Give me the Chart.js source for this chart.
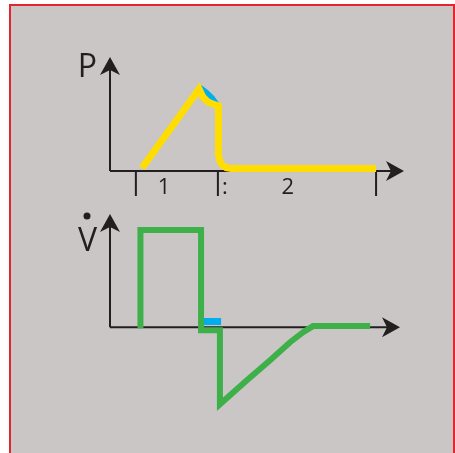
<!DOCTYPE html>
<html>
<head>
<meta charset="utf-8">
<script src="https://cdn.jsdelivr.net/npm/chart.js@4.4.1/dist/chart.umd.min.js"></script>
<style>
  body { margin: 0; background: #fff; width: 455px; height: 453px; overflow: hidden; position: relative; }
  #panel { position: absolute; left: 9px; top: 4px; width: 442px; height: 460px;
           background: #cac6c5; border: 2px solid #e2262b; }
  canvas { position: absolute; left: 0; top: 0; }
</style>
</head>
<body>
<div id="panel"></div>
<canvas id="graficoPresion" width="455" height="453"></canvas>
<canvas id="graficoFlujo" width="455" height="453"></canvas>
<script>
// presion (amarillo)
const presionTiempo = [10.9, 30.3, 31.6, 33.3, 35.0, 36.9, 36.9, 37.4, 38.1, 39.5, 41.2, 90.5];
const presionValor  = [2.6, 71.9, 64.9, 60.5, 58.8, 57.0, 14.0, 8.8, 5.3, 2.9, 2.2, 2.2];
// zona azul bajo el pico
const pausaTiempo = [31.0, 33.3, 35.4, 37.4, 35.0, 32.7, 31.0];
const pausaValor  = [75.4, 71.1, 65.8, 58.8, 58.8, 62.3, 69.3];
// fases
const faseTicks = [8.8, 36.7, 90.5];
const faseLabelPos = [18.4, 39.1, 60.5];
const faseLabels = ["1", ":", "2"];

// flujo (verde)
const flujoTiempo = [10.5, 10.5, 31.4, 31.4, 37.9, 37.9, 47.2, 55.2, 62.1, 66.6, 70.0, 89.7];
const flujoValor  = [-0.9, 85.8, 85.8, -2.7, -2.7, -68.1, -46.9, -29.2, -13.3, -4.4, 0.9, 0.9];
// rectangulo azul del flujo
const rectTiempo = [32.1, 38.3, 38.3, 32.1];
const rectValor  = [8.0, 8.0, 1.8, 1.8];

const negro = "#231f20";
const toXY = (xs, ys) => xs.map((x, i) => ({x: x, y: ys[i]}));

function flecha(ctx, x, y, dir) {
    // punta de flecha con muesca
    ctx.save();
    ctx.translate(x, y);
    if (dir == "up") ctx.rotate(-Math.PI / 2);
    ctx.beginPath();
    ctx.moveTo(0, 0);
    ctx.lineTo(-18, -10);
    ctx.lineTo(-13, 0);
    ctx.lineTo(-18, 10);
    ctx.closePath();
    ctx.fillStyle = negro;
    ctx.fill();
    ctx.restore();
}

const ejesPlugin = {
    id: "ejes",
    beforeDatasetsDraw(chart, args, opts) {
        const ctx = chart.ctx;
        const xs = chart.scales.x, ys = chart.scales.y;
        const x0 = xs.getPixelForValue(0), y0 = ys.getPixelForValue(0);
        const xEnd = xs.right, yTop = ys.top;
        ctx.save();
        ctx.strokeStyle = negro;
        ctx.lineWidth = 2;
        ctx.beginPath();
        ctx.moveTo(x0, y0);
        ctx.lineTo(xEnd - 10, y0);
        ctx.moveTo(x0, y0);
        ctx.lineTo(x0, yTop + 10);
        ctx.stroke();
        flecha(ctx, xEnd, y0, "right");
        flecha(ctx, x0, yTop, "up");

        if (opts.ticks) {
            ctx.beginPath();
            opts.ticks.forEach(t => {
                const px = xs.getPixelForValue(t);
                ctx.moveTo(px, y0);
                ctx.lineTo(px, y0 + 25);
            });
            ctx.stroke();
            ctx.fillStyle = negro;
            ctx.font = "22px 'Open Sans'";
            ctx.textAlign = "center";
            ctx.textBaseline = "alphabetic";
            opts.labels.forEach((l, i) => {
                ctx.fillText(l, xs.getPixelForValue(opts.labelPos[i]), y0 + 23);
            });
        }
        ctx.fillStyle = negro;
        ctx.font = "32px 'Open Sans'";
        ctx.textAlign = "right";
        ctx.textBaseline = "alphabetic";
        ctx.fillText(opts.titulo, x0 - 13, opts.tituloY);
        if (opts.punto) {
            ctx.beginPath();
            ctx.arc(x0 - 23, opts.tituloY - 35, 3.5, 0, Math.PI * 2);
            ctx.fill();
        }
        ctx.restore();
    }
};

const opcionesBase = (padding, ymin, ymax, ejes) => ({
    responsive: false,
    animation: false,
    layout: { padding: padding },
    plugins: { legend: { display: false }, tooltip: { enabled: false }, ejes: ejes },
    scales: {
        x: { type: "linear", min: 0, max: 100, display: false },
        y: { type: "linear", min: ymin, max: ymax, display: false }
    }
});

let miCanvas = document.getElementById("graficoPresion").getContext("2d");
new Chart(miCanvas, {
    type: "scatter",
    data: {
        datasets: [
            {
                data: toXY(presionTiempo, presionValor),
                showLine: true, borderColor: "#ffdd00", borderWidth: 7,
                borderJoinStyle: "miter", pointRadius: 0, clip: false, fill: false
            },
            {
                data: toXY(pausaTiempo, pausaValor),
                showLine: true, borderWidth: 0, backgroundColor: "#00aeef",
                pointRadius: 0, clip: false, fill: "shape"
            }
        ]
    },
    options: opcionesBase({left: 110, right: 51, top: 57, bottom: 282}, 0, 100,
        {ticks: faseTicks, labels: faseLabels, labelPos: faseLabelPos, titulo: "P", tituloY: 77}),
    plugins: [ejesPlugin]
});

let miCanvas2 = document.getElementById("graficoFlujo").getContext("2d");
new Chart(miCanvas2, {
    type: "scatter",
    data: {
        datasets: [
            {
                data: toXY(flujoTiempo, flujoValor),
                showLine: true, borderColor: "#3eb049", borderWidth: 6,
                borderJoinStyle: "miter", pointRadius: 0, clip: false, fill: false
            },
            {
                data: toXY(rectTiempo, rectValor),
                showLine: true, borderWidth: 0, backgroundColor: "#00aeef",
                pointRadius: 0, clip: false, fill: "shape"
            }
        ]
    },
    options: opcionesBase({left: 110, right: 55, top: 214, bottom: 41}, -75, 100,
        {titulo: "V", tituloY: 251, punto: true}),
    plugins: [ejesPlugin]
});
</script>
</body>
</html>
